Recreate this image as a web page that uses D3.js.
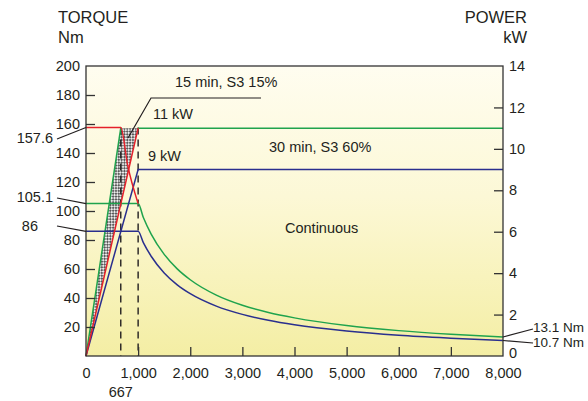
<!DOCTYPE html>
<html>
<head>
<meta charset="utf-8">
<script src="https://cdn.jsdelivr.net/npm/d3@7"></script>
<style>
  body { margin: 0; background: #fff; }
  text { font-family: "Liberation Sans", Arial, sans-serif; fill: #231f20; }
</style>
</head>
<body>
<div id="chart"></div>
<script>
// tick values
var torqueTicks = [0, 20, 40, 60, 80, 100, 120, 140, 160, 180, 200];
var powerTicks = [0, 2, 4, 6, 8, 10, 12, 14];
var speedTicks = [0, 1000, 2000, 3000, 4000, 5000, 6000, 7000, 8000];

// curves: [rpm, Nm] or [rpm, kW]
var redTorque = [[0, 157.6], [667, 157.6], [800, 131.4], [1000, 105.1]];
var redPower = [[0, 0], [1000, 11]];
var greenTorque = [[0, 105.1], [1000, 105.1], [1100, 95.5], [1250, 84.1], [1500, 70.1],
  [1750, 60.1], [2000, 52.6], [2500, 42.0], [3000, 35.0], [3500, 30.0], [4000, 26.3],
  [5000, 21.0], [6000, 17.5], [7000, 15.0], [8000, 13.1]];
var greenPowerRamp = [[0, 0], [667, 11]];
var greenPowerFlat = [[1000, 11], [8000, 11]];
var blueTorque = [[0, 86], [1000, 86], [1100, 78.2], [1250, 68.8], [1500, 57.3],
  [1750, 49.1], [2000, 43.0], [2500, 34.4], [3000, 28.7], [3500, 24.6], [4000, 21.5],
  [5000, 17.2], [6000, 14.3], [7000, 12.3], [8000, 10.7]];
var bluePower = [[0, 0], [1000, 9], [8000, 9]];
var hatchArea = [[0, 0], [667, 11], [1000, 11]];
var baseSpeeds = [667, 1000];

var W = 588, H = 401;
var L = 86, R = 503, T = 66, B = 356;

var svg = d3.select('#chart').append('svg')
  .attr('width', W).attr('height', H);

var x = d3.scaleLinear().domain([0, 8000]).range([L, R]);
var yT = d3.scaleLinear().domain([0, 200]).range([B, T]);
var yP = d3.scaleLinear().domain([0, 14]).range([B, T]);

var defs = svg.append('defs');
var grad = defs.append('linearGradient').attr('id', 'bg')
  .attr('x1', 0).attr('y1', 0).attr('x2', 0).attr('y2', 1);
grad.append('stop').attr('offset', '0%').attr('stop-color', '#fffdf0');
grad.append('stop').attr('offset', '45%').attr('stop-color', '#fcf8d6');
grad.append('stop').attr('offset', '100%').attr('stop-color', '#f4eea4');

var pat = defs.append('pattern').attr('id', 'hatch')
  .attr('patternUnits', 'userSpaceOnUse')
  .attr('width', 4).attr('height', 4)
  .attr('patternTransform', 'rotate(45)');
pat.append('rect').attr('width', 4).attr('height', 4).attr('fill', '#ececec');
pat.append('rect').attr('width', 2).attr('height', 2).attr('fill', '#5a5a5a');
pat.append('rect').attr('x', 2).attr('y', 2).attr('width', 2).attr('height', 2).attr('fill', '#5a5a5a');

// plot background
svg.append('rect')
  .attr('x', L).attr('y', T).attr('width', R - L).attr('height', B - T)
  .attr('fill', 'url(#bg)');

// hatched triangle between the two power ramps
svg.append('path')
  .datum(hatchArea)
  .attr('d', d3.line().x(function(d){ return x(d[0]); }).y(function(d){ return yP(d[1]); }))
  .attr('fill', 'url(#hatch)');

// dashed base speed lines
svg.selectAll('.base')
  .data(baseSpeeds)
  .enter().append('line')
  .attr('x1', function(d){ return x(d); }).attr('x2', function(d){ return x(d); })
  .attr('y1', yT(157.6)).attr('y2', B)
  .attr('stroke', '#231f20').attr('stroke-width', 1.4)
  .attr('stroke-dasharray', '7,5');

var lineT = d3.line().x(function(d){ return x(d[0]); }).y(function(d){ return yT(d[1]); })
  .curve(d3.curveMonotoneX);
var lineP = d3.line().x(function(d){ return x(d[0]); }).y(function(d){ return yP(d[1]); });

var red = '#e5202a', green = '#1fa34d', blue = '#2a2f8e';

function draw(data, gen, color) {
  svg.append('path').datum(data)
    .attr('d', gen)
    .attr('fill', 'none')
    .attr('stroke', color)
    .attr('stroke-width', 1.5);
}

draw(greenPowerRamp, lineP, green);
draw(greenPowerFlat, lineP, green);
draw(greenTorque, lineT, green);
draw(bluePower, lineP, blue);
draw(blueTorque, lineT, blue);
draw(redPower, lineP, red);
draw(redTorque, lineT, red);

// frame
svg.append('rect')
  .attr('x', L).attr('y', T).attr('width', R - L).attr('height', B - T)
  .attr('fill', 'none').attr('stroke', '#333').attr('stroke-width', 1.3);

// axes
var leftAxis = svg.append('g')
  .attr('transform', 'translate(' + L + ',0)')
  .call(d3.axisLeft(yT).tickValues(torqueTicks.filter(function(d){ return d > 0; }))
    .tickSizeInner(-9).tickSizeOuter(0).tickPadding(6));

var rightAxis = svg.append('g')
  .attr('transform', 'translate(' + R + ',0)')
  .call(d3.axisRight(yP).tickValues(powerTicks)
    .tickSizeInner(-9).tickSizeOuter(0).tickPadding(6));

var bottomAxis = svg.append('g')
  .attr('transform', 'translate(0,' + B + ')')
  .call(d3.axisBottom(x).tickValues(speedTicks)
    .tickFormat(d3.format(',')).tickSizeInner(-9).tickSizeOuter(0).tickPadding(12));

[leftAxis, rightAxis, bottomAxis].forEach(function(g){
  g.select('.domain').remove();
  g.selectAll('line').attr('stroke', '#333').attr('stroke-width', 1.3);
  g.selectAll('text').style('font-size', '14.5px')
    .style('font-family', '"Liberation Sans", Arial, sans-serif').attr('fill', '#231f20');
});
// no tick marks at the corners
leftAxis.selectAll('.tick').filter(function(d){ return d === 200; }).select('line').remove();
rightAxis.selectAll('.tick').filter(function(d){ return d === 0 || d === 14; }).select('line').remove();
bottomAxis.selectAll('.tick').filter(function(d){ return d === 0 || d === 8000; }).select('line').remove();
// right-hand zero sits a little above the axis line
rightAxis.selectAll('.tick').filter(function(d){ return d === 0; }).select('text').attr('dy', '0.1em');

// titles
function label(txt, px, py, anchor, size) {
  svg.append('text').attr('x', px).attr('y', py)
    .attr('text-anchor', anchor || 'start')
    .style('font-size', (size || 14.5) + 'px')
    .text(txt);
}
label('TORQUE', 58, 23, 'start', 16.5);
label('Nm', 58, 43, 'start', 16.5);
label('POWER', 527, 23, 'end', 16.5);
label('kW', 527, 43, 'end', 16.5);

// speed label under dashed line
label('667', x(667), 397, 'middle');

// annotations
function leader(pts) {
  svg.append('path').datum(pts)
    .attr('d', d3.line())
    .attr('fill', 'none').attr('stroke', '#231f20').attr('stroke-width', 1.2);
}
label('157.6', 53, 143, 'end');
leader([[57, 139], [L, yT(157.6)]]);
label('105.1', 53, 202, 'end');
leader([[57, 198], [L, yT(105.1)]]);
label('86', 38, 231, 'end');
leader([[57, 226], [L, yT(86)]]);

label('15 min, S3 15%', 175, 87);
leader([[261, 98], [151, 98], [128, 138]]);
label('11 kW', 153, 119);
label('9 kW', 148, 161);
label('30 min, S3 60%', 269, 152);
label('Continuous', 285, 233);

label('13.1 Nm', 533, 332, 'start', 13.5);
leader([[R, yT(13.1)], [533, 329]]);
label('10.7 Nm', 533, 347, 'start', 13.5);
leader([[R, yT(10.7)], [533, 343]]);
</script>
</body>
</html>
